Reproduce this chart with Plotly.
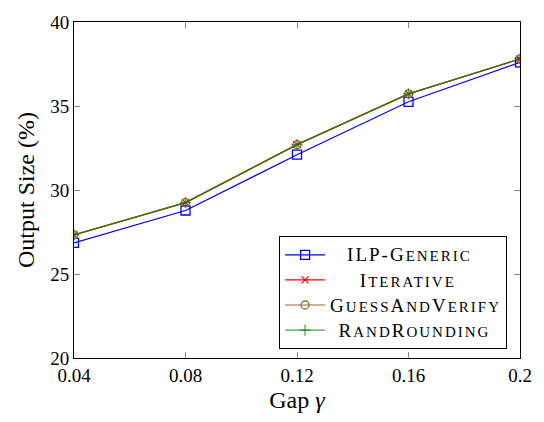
import plotly.graph_objects as go

gap = [0.04, 0.08, 0.12, 0.16, 0.2]
ilp_generic = [26.85, 28.78, 32.1, 35.25, 37.6]
iterative = [27.33, 29.25, 32.7, 35.72, 37.8]
guess_and_verify = [27.33, 29.25, 32.7, 35.72, 37.8]
rand_rounding = [27.33, 29.25, 32.7, 35.72, 37.8]

x_ticks = [0.04, 0.08, 0.12, 0.16, 0.2]
x_tick_labels = ["0.04", "0.08", "0.12", "0.16", "0.2"]
y_ticks = [20, 25, 30, 35, 40]

FF = "Liberation Serif"
LS = "letter-spacing:2px"


def sc(parts, pad=0):
    # emulate small caps (centered with leading padding)
    out = "\u00a0" * pad
    for big, small in parts:
        out += ("<span style='font-size:19px;" + LS + "'>" + big + "</span>"
                + "<span style='font-size:15px;" + LS + "'>" + small + "</span>")
    return out

names = [
    sc([("ILP-G", "ENERIC")], 4),
    sc([("I", "TERATIVE")], 7),
    sc([("G", "UESS"), ("A", "ND"), ("V", "ERIFY")], 0),
    sc([("R", "AND"), ("R", "OUNDING")], 2),
]

series = [ilp_generic, iterative, guess_and_verify, rand_rounding]
colors = ["#0000ff", "#ff0000", "#996633", "rgba(0,128,0,0.7)"]
symbols = ["square-open", "x-thin-open", "circle-open", "cross-thin-open"]
sizes = [9, 7, 8, 8]

fig = go.Figure()
for ys, nm, c, s, sz in zip(series, names, colors, symbols, sizes):
    fig.add_trace(go.Scatter(
        x=gap, y=ys, name=nm, mode="lines+markers",
        line=dict(color=c, width=1.2),
        marker=dict(symbol=s, size=sz, color=c, line=dict(color=c, width=1.3)),
    ))

fig.update_layout(
    width=544, height=422,
    margin=dict(l=74, r=20, t=18, b=64),
    paper_bgcolor="white", plot_bgcolor="white",
    font=dict(family=FF, size=19, color="black"),
    showlegend=True,
    legend=dict(
        x=0.971, y=0.026, xanchor="right", yanchor="bottom",
        bgcolor="white", bordercolor="black", borderwidth=1,
        font=dict(family=FF, size=17, color="black"),
        tracegroupgap=0, itemwidth=40,
    ),
)
fig.update_xaxes(
    range=[0.04, 0.2], tickvals=x_ticks, ticktext=x_tick_labels,
    ticks="inside", ticklen=6, tickcolor="#888", mirror="allticks",
    showline=True, linecolor="black", linewidth=1, showgrid=False, zeroline=False,
    tickfont=dict(family=FF, size=19),
    title=dict(text="Gap <i>γ</i>", font=dict(family=FF, size=24), standoff=6),
)
fig.update_yaxes(
    range=[20, 40], tickvals=y_ticks,
    ticks="inside", ticklen=6, tickcolor="#888", mirror="allticks",
    showline=True, linecolor="black", linewidth=1, showgrid=False, zeroline=False,
    tickfont=dict(family=FF, size=19),
    title=dict(text="Output Size (%)", font=dict(family=FF, size=24), standoff=8),
)

fig.write_html("out.html")
